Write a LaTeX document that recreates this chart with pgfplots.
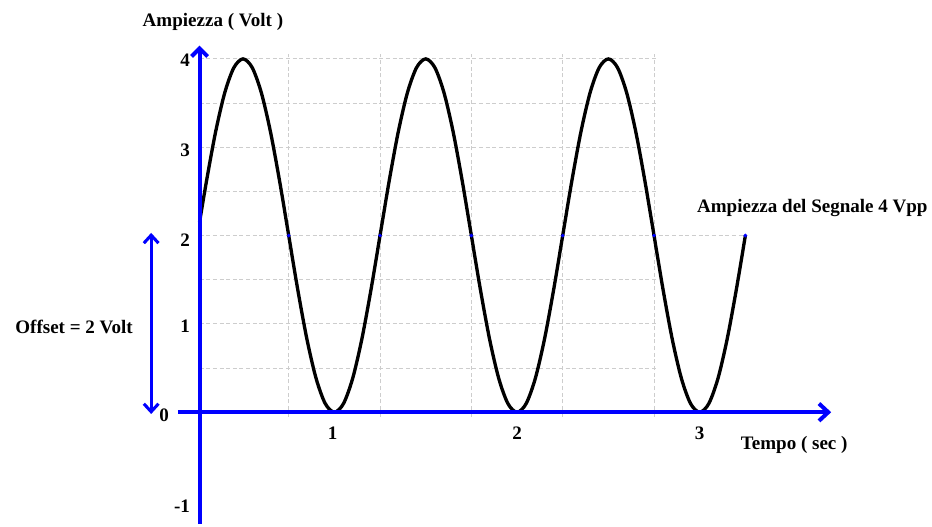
\documentclass[border=0pt]{standalone}
\usepackage{pgfplots}
\pgfplotsset{compat=1.18}
\usepackage{fontspec}
\setmainfont{Liberation Serif}
\usetikzlibrary{arrows.meta}
\definecolor{axblue}{RGB}{0,0,255}
\definecolor{gridgray}{RGB}{205,205,205}
\begin{document}
\begin{tikzpicture}
\begin{axis}[
  scale only axis, width=699pt, height=393.75pt,
  xmin=-0.8306, xmax=4.2623, ymin=-1.2655, ymax=4.6667,
  axis lines=none, clip=false,
  font=\fontsize{14.3}{16}\selectfont\bfseries,
]
\path (rel axis cs:0,0) rectangle (rel axis cs:1,1);
% grid
\foreach \v in {0.5,1,1.5,2.5,3,3.5,4} {
  \edef\tmp{\noexpand\draw[gridgray, densely dashed, line width=0.6pt] (axis cs:0.262,\v) -- (axis cs:2.76,\v);}\tmp
}
\draw[gridgray, densely dashed, line width=0.6pt] (axis cs:0.262,2) -- (axis cs:3.25,2);
\foreach \t in {0.75,1.25,1.75,2.25,2.75} {
  \edef\tmp{\noexpand\draw[gridgray, densely dashed, line width=0.6pt] (axis cs:\t,-0.05) -- (axis cs:\t,4.05);}\tmp
}
% signal
\addplot[black, line width=2.5pt, smooth] coordinates {
(0.262,2.151) (0.30,2.618) (0.35,3.176) (0.40,3.618) (0.45,3.902) (0.50,4) (0.55,3.902) (0.60,3.618) (0.65,3.176) (0.70,2.618)
(0.75,2) (0.80,1.382) (0.85,0.824) (0.90,0.382) (0.95,0.098) (1.00,0) (1.05,0.098) (1.10,0.382) (1.15,0.824) (1.20,1.382)
(1.25,2) (1.30,2.618) (1.35,3.176) (1.40,3.618) (1.45,3.902) (1.50,4) (1.55,3.902) (1.60,3.618) (1.65,3.176) (1.70,2.618)
(1.75,2) (1.80,1.382) (1.85,0.824) (1.90,0.382) (1.95,0.098) (2.00,0) (2.05,0.098) (2.10,0.382) (2.15,0.824) (2.20,1.382)
(2.25,2) (2.30,2.618) (2.35,3.176) (2.40,3.618) (2.45,3.902) (2.50,4) (2.55,3.902) (2.60,3.618) (2.65,3.176) (2.70,2.618)
(2.75,2) (2.80,1.382) (2.85,0.824) (2.90,0.382) (2.95,0.098) (3.00,0) (3.05,0.098) (3.10,0.382) (3.15,0.824) (3.20,1.382)
(3.25,2)
};
\addplot[only marks, mark=*, mark size=1.2pt, axblue] coordinates {(0.75,2) (1.25,2) (1.75,2) (2.25,2) (2.75,2) (3.25,2)};
% axes
\draw[axblue, line width=3pt, -{Straight Barb[length=6pt,width=12pt]}] (axis cs:0.262,-1.2655) -- (axis cs:0.262,4.15);
\draw[axblue, line width=3pt, -{Straight Barb[length=7pt,width=13pt]}] (axis cs:0.143,0) -- (axis cs:3.72,0);
\draw[axblue, line width=2.3pt, {Straight Barb[length=6pt,width=11pt]}-{Straight Barb[length=6pt,width=11pt]}] (axis cs:-0.003,2.03) -- (axis cs:-0.003,-0.02);
% tick labels
\node[anchor=east] at (axis cs:0.235,3.98) {4};
\node[anchor=east] at (axis cs:0.235,2.97) {3};
\node[anchor=east] at (axis cs:0.235,1.95) {2};
\node[anchor=east] at (axis cs:0.235,0.97) {1};
\node[anchor=east] at (axis cs:0.12,-0.03) {0};
\node[anchor=east] at (axis cs:0.235,-1.06) {-1};
\node at (axis cs:0.99,-0.24) {1};
\node at (axis cs:2.0,-0.24) {2};
\node at (axis cs:3.0,-0.24) {3};
% labels
\node at (axis cs:0.335,4.418) {Ampiezza ( Volt )};
\node[anchor=west] at (axis cs:3.20,-0.373) {Tempo ( sec )};
\node at (axis cs:-0.425,0.97) {Offset = 2 Volt};
\node[anchor=west] at (axis cs:2.96,2.316) {Ampiezza del Segnale 4 Vpp};
\end{axis}
\end{tikzpicture}
\end{document}
